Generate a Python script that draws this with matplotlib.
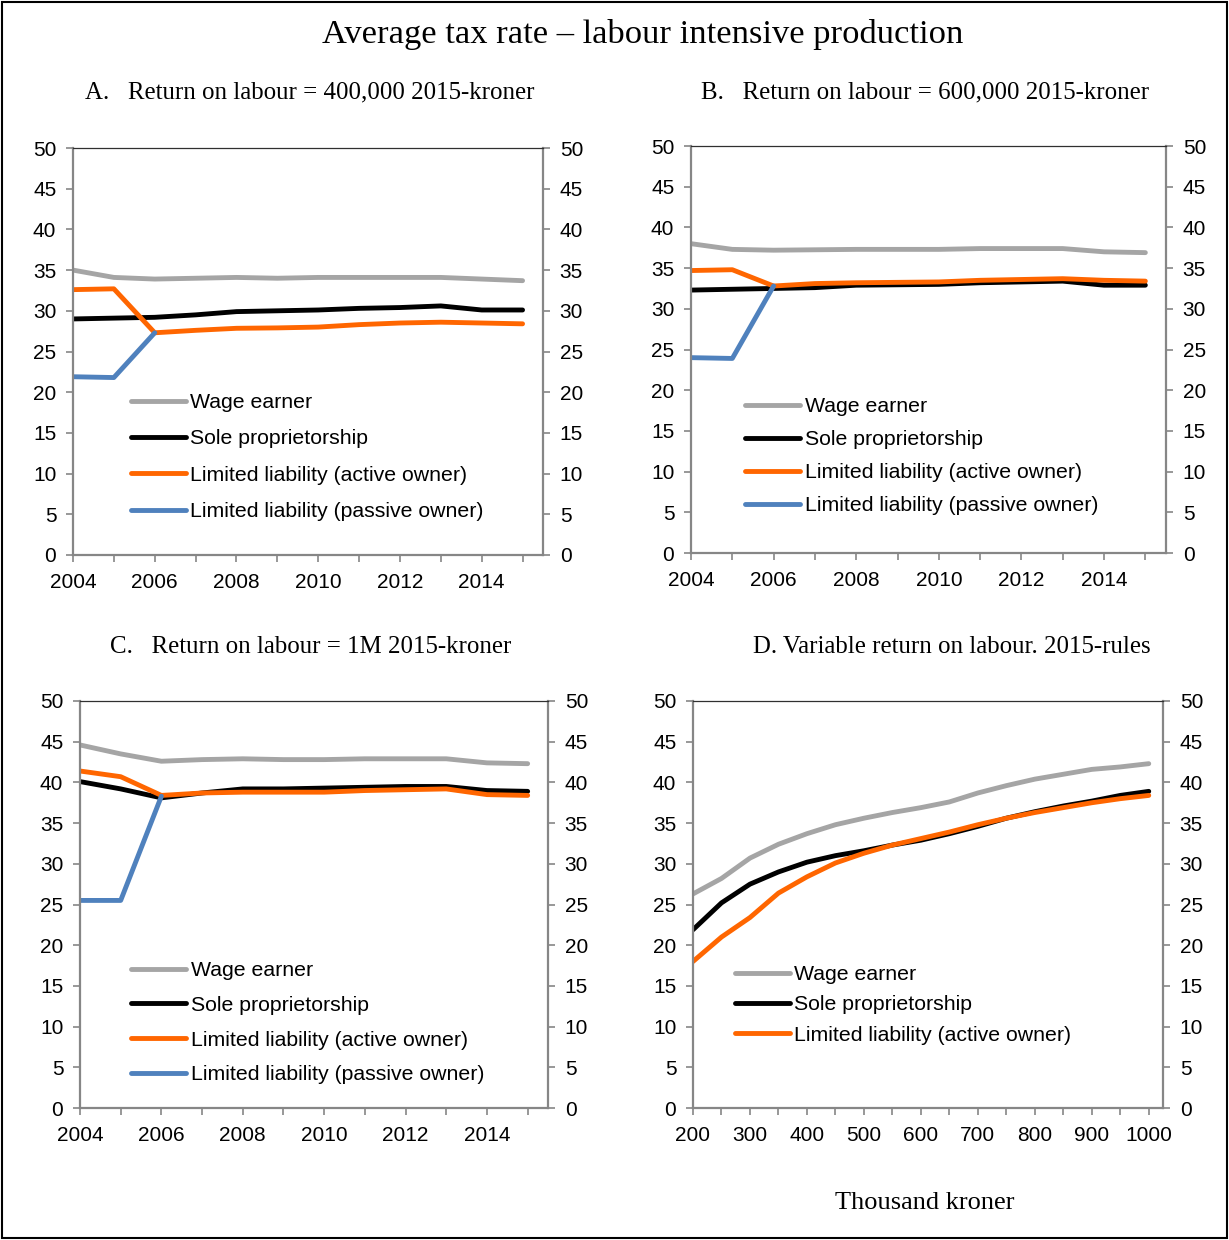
import numpy as np
import matplotlib.pyplot as plt
from matplotlib.patches import Rectangle

plt.rcParams['font.family'] = ['Liberation Sans', 'DejaVu Sans']
SERIF = ['Liberation Serif', 'DejaVu Serif']

years = [2004, 2005, 2006, 2007, 2008, 2009, 2010, 2011, 2012, 2013, 2014, 2015]
passive_years = [2004, 2005, 2006]
income = [200, 250, 300, 350, 400, 450, 500, 550, 600, 650, 700, 750, 800, 850, 900, 950, 1000]

labels = ['Wage earner', 'Sole proprietorship',
          'Limited liability (active owner)', 'Limited liability (passive owner)']
colors = ['#A5A5A5', '#000000', '#FF6600', '#4F81BD']

# A: return on labour 400,000
a_wage = [35.0, 34.1, 33.9, 34.0, 34.1, 34.0, 34.1, 34.1, 34.1, 34.1, 33.9, 33.7]
a_sole = [29.0, 29.1, 29.2, 29.5, 29.9, 30.0, 30.1, 30.3, 30.4, 30.6, 30.1, 30.1]
a_active = [32.6, 32.7, 27.3, 27.6, 27.85, 27.9, 28.0, 28.3, 28.5, 28.6, 28.5, 28.4]
a_passive = [21.9, 21.8, 27.3]

# B: return on labour 600,000
b_wage = [38.0, 37.3, 37.2, 37.25, 37.3, 37.3, 37.3, 37.4, 37.4, 37.4, 37.0, 36.9]
b_sole = [32.3, 32.4, 32.5, 32.6, 32.9, 32.95, 33.0, 33.2, 33.3, 33.4, 32.9, 32.9]
b_active = [34.7, 34.8, 32.8, 33.1, 33.2, 33.25, 33.3, 33.5, 33.6, 33.7, 33.5, 33.4]
b_passive = [24.0, 23.9, 32.8]

# C: return on labour 1M
c_wage = [44.6, 43.5, 42.6, 42.8, 42.9, 42.8, 42.8, 42.9, 42.9, 42.9, 42.4, 42.3]
c_sole = [40.1, 39.2, 38.1, 38.7, 39.2, 39.2, 39.3, 39.4, 39.5, 39.5, 39.0, 38.9]
c_active = [41.4, 40.7, 38.4, 38.7, 38.8, 38.8, 38.8, 39.0, 39.1, 39.2, 38.5, 38.4]
c_passive = [25.5, 25.5, 38.3]

# D: variable return on labour, 2015 rules
d_wage = [26.3, 28.2, 30.7, 32.4, 33.7, 34.8, 35.6, 36.3, 36.9, 37.6, 38.7, 39.6, 40.4, 41.0, 41.6, 41.9, 42.3]
d_sole = [21.9, 25.2, 27.5, 29.0, 30.2, 31.0, 31.6, 32.3, 32.9, 33.7, 34.6, 35.6, 36.4, 37.1, 37.7, 38.4, 38.9]
d_active = [18.0, 21.0, 23.4, 26.4, 28.4, 30.1, 31.3, 32.3, 33.1, 33.9, 34.8, 35.6, 36.3, 36.9, 37.5, 38.0, 38.4]

W, H = 1229, 1240
fig = plt.figure(figsize=(W / 100, H / 100), dpi=100)


def add_axes(left, top, right, bottom):
    return fig.add_axes([left / W, 1 - bottom / H, (right - left) / W, (bottom - top) / H])


def style(ax, xticks, xlabels, xlim):
    ax.set_ylim(0, 50)
    ax.set_yticks(range(0, 51, 5))
    ax.set_xlim(*xlim)
    ax.set_xticks(xticks)
    ax.set_xticklabels(xlabels)
    ax.tick_params(axis='y', left=True, right=True, labelleft=True, labelright=True,
                   direction='out', length=5, width=1.2, color='#868686',
                   labelsize=15, pad=7)
    ax.tick_params(axis='x', direction='out', length=5, width=1.2, color='#868686',
                   labelsize=15, pad=8)
    for side in ['left', 'right', 'bottom']:
        ax.spines[side].set_color('#868686')
        ax.spines[side].set_linewidth(1.6)
    ax.spines['top'].set_color('#303030')
    ax.spines['top'].set_linewidth(0.9)


def draw(ax, x, series, px=None, passive=None):
    for vals, lab, col in zip(series, labels, colors):
        ax.plot(x, vals, color=col, lw=3.5, label=lab, solid_capstyle='round')
    if passive is not None:
        ax.plot(px, passive, color=colors[3], lw=3.5, label=labels[3], solid_capstyle='round')


def legend(ax, x, y, spacing):
    ax.legend(loc='upper left', bbox_to_anchor=(x, y), frameon=False, fontsize=15.3,
              handlelength=2.6, handletextpad=0.2, labelspacing=spacing,
              borderpad=0, borderaxespad=0)


year_labels = [str(y) if y % 2 == 0 else '' for y in years]
inc_labels = [str(v) if v % 100 == 0 else '' for v in income]

ax_a = add_axes(73, 148, 543, 555)
draw(ax_a, years, [a_wage, a_sole, a_active], passive_years, a_passive)
style(ax_a, years, year_labels, (2004, 2015.5))
legend(ax_a, 0.123, 0.398, 0.82)

ax_b = add_axes(691, 146, 1166, 553)
draw(ax_b, years, [b_wage, b_sole, b_active], passive_years, b_passive)
style(ax_b, years, year_labels, (2004, 2015.5))
legend(ax_b, 0.114, 0.383, 0.66)

ax_c = add_axes(80, 701, 548, 1108)
draw(ax_c, years, [c_wage, c_sole, c_active], passive_years, c_passive)
style(ax_c, years, year_labels, (2004, 2015.5))
legend(ax_c, 0.109, 0.361, 0.74)

ax_d = add_axes(693, 701, 1163, 1108)
draw(ax_d, income, [d_wage, d_sole, d_active])
style(ax_d, income, inc_labels, (200, 1025))
legend(ax_d, 0.089, 0.351, 0.53)

fig.text(643 / W, 1 - 34 / H, 'Average tax rate \u2013 labour intensive production',
         ha='center', va='center', family=SERIF, fontsize=24.8)
subtitles = [(310, 92, 'A.   Return on labour = 400,000 2015-kroner'),
             (925, 92, 'B.   Return on labour = 600,000 2015-kroner'),
             (311, 647, 'C.   Return on labour = 1M 2015-kroner'),
             (952, 647, 'D. Variable return on labour. 2015-rules')]
for x, y, s in subtitles:
    fig.text(x / W, 1 - y / H, s, ha='center', va='center', family=SERIF, fontsize=17.9)
fig.text(925 / W, 1 - 1203 / H, 'Thousand kroner', ha='center', va='center',
         family=SERIF, fontsize=19)

fig.patches.append(Rectangle((2 / W, 2 / H), 1 - 4 / W, 1 - 4 / H, transform=fig.transFigure,
                             fill=False, edgecolor='black', lw=1.5))

fig.savefig('out.png', dpi=100)
